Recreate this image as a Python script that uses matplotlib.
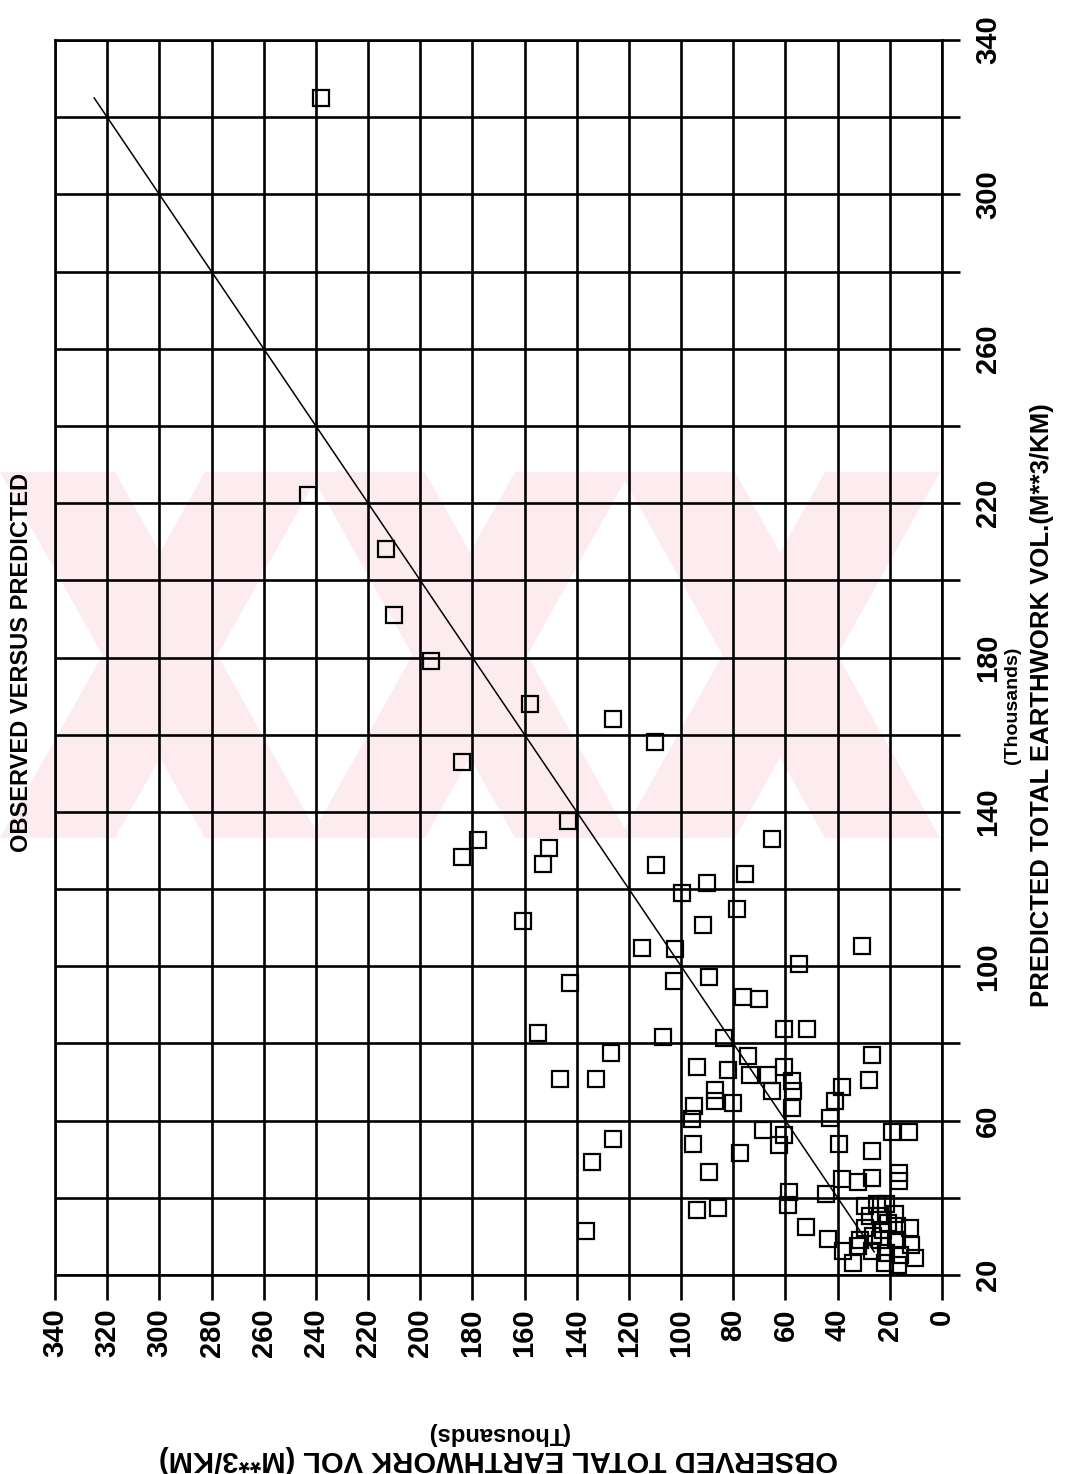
import numpy as np
import matplotlib
matplotlib.use("Agg")
import matplotlib.pyplot as plt
from matplotlib import font_manager
from matplotlib.patches import Polygon

# predicted vs observed earthwork volume, thousands of m**3/km
predicted = [325, 222, 208, 191, 179, 168, 164, 158, 153, 137.7,
             132.6, 128.3, 130.6, 126.4, 133, 126.2, 123.9, 121.5, 118.9, 114.8,
             111.6, 110.7, 104.6, 104.4, 105.2, 100.7, 95.6, 96.2, 97.1, 92.1,
             91.4, 82.8, 81.6, 81.3, 83.8, 83.8, 77.5, 77, 70.6, 70.9,
             70.9, 74, 73.2, 76.8, 71.9, 71.9, 74, 70.3, 67.8, 67.6,
             68, 63.3, 65, 64.6, 63.7, 60.5, 57.7, 56.2, 53.8, 55.3,
             49.2, 54, 51.6, 46.8, 41.4, 38.2, 36.9, 37.3, 31.4, 32.4,
             68.8, 65.2, 60.7, 53.9, 57, 57, 52.2, 45, 44.1, 45.2,
             46.5, 44.3, 40.9, 29.3, 27.4, 23, 26.1, 37.8, 38.3, 38.3,
             35.2, 35.2, 35.7, 32.6, 32.2, 31.7, 32.2, 29.1, 29.1, 29.1,
             27.8, 25.7, 25.2, 24.3, 23, 22.6, 26.1, 30, 33.5]
observed = [238, 243, 213, 210, 196, 158, 126, 110, 184, 143.4,
            178, 184.1, 150.8, 152.9, 65.3, 109.7, 75.4, 90.2, 99.7, 78.5,
            160.8, 91.5, 115.1, 102.3, 30.6, 55, 142.5, 102.7, 89.3, 76.3,
            70.3, 154.8, 107, 83.4, 60.5, 51.6, 126.7, 26.7, 28, 146.5,
            132.5, 94, 81.9, 74.2, 73.5, 66.7, 60.5, 57.6, 57.3, 65.2,
            87, 57.5, 87, 80, 95, 96, 68.7, 60.5, 62.5, 126,
            134, 95.4, 77.6, 89.3, 58.7, 59, 93.9, 85.9, 136.4, 52,
            38.3, 41.2, 43.1, 39.3, 19.1, 12.7, 26.7, 38.2, 32.2, 26.7,
            16.4, 16.4, 44.4, 43.7, 32.2, 34.1, 38, 29.6, 25.1, 21.3,
            27.7, 23.8, 18.1, 17.4, 12.3, 22.6, 29.6, 31.5, 23.8, 17.4,
            11.7, 21.3, 16.2, 10.4, 21.9, 16.8, 27, 26.4, 20.6]

# 1:1 reference line
fit_line = [26, 325]

obs_ticks = list(range(0, 341, 20))
pred_grid = list(range(20, 341, 20))
pred_labels = list(range(20, 341, 40))


def pick_font(names):
    have = {f.name for f in font_manager.fontManager.ttflist}
    for n in names:
        if n in have:
            return n
    return "DejaVu Sans"


narrow = pick_font(["Liberation Sans Narrow", "Liberation Sans", "DejaVu Sans"])
plain = pick_font(["Liberation Sans", "DejaVu Sans"])

W, H = 1073, 1474
fig = plt.figure(figsize=(W / 100, H / 100), dpi=100)


def fx(px):
    return px / W


def fy(py):
    return 1 - py / H


# faint pink watermark behind the grid
pink = "#fdecef"
top, bot = 472, 838
for c in [160, 470, 780]:
    hw, th = 160, 115
    back = [(c - hw, top), (c - hw + th, top), (c + hw, bot), (c + hw - th, bot)]
    fwd = [(c + hw - th, top), (c + hw, top), (c - hw + th, bot), (c - hw, bot)]
    for poly in (back, fwd):
        fig.add_artist(Polygon([(fx(x), fy(y)) for x, y in poly], closed=True,
                               transform=fig.transFigure, facecolor=pink,
                               edgecolor="none", zorder=0))

ax = fig.add_axes([fx(55), fy(1275), fx(942) - fx(55), (1275 - 40) / H])
ax.set_facecolor("none")
ax.set_xlim(340, 0)
ax.set_ylim(20, 340)

for v in obs_ticks:
    ax.axvline(v, color="black", lw=1.9, zorder=1)
for v in pred_grid:
    ax.axhline(v, color="black", lw=1.9, zorder=1)

ax.plot(fit_line, fit_line, color="black", lw=1.1, zorder=2)
ax.plot(observed, predicted, linestyle="none", marker="s", markersize=11,
        markerfacecolor="none", markeredgecolor="black", markeredgewidth=1.6,
        zorder=3)

for s in ax.spines.values():
    s.set_linewidth(1.9)

ax.set_xticks(obs_ticks)
ax.set_xticklabels([str(v) for v in obs_ticks], rotation=90,
                   fontsize=21, fontweight="bold", family=plain)
ax.tick_params(axis="x", direction="out", length=18, width=1.9, pad=6)

ax.yaxis.tick_right()
ax.set_yticks(pred_grid)
ax.set_yticklabels([str(v) if v in pred_labels else "" for v in pred_grid],
                   rotation=90, fontsize=21, fontweight="bold", family=plain,
                   va="center")
ax.tick_params(axis="y", direction="out", length=13, width=1.9, pad=10,
               left=False, right=True)

fig.text(fx(22), fy(662), "OBSERVED VERSUS PREDICTED", rotation=90,
         ha="center", va="center", fontsize=17, fontweight="bold", family=narrow)
fig.text(fx(1012), fy(705), "(Thousands)", rotation=90,
         ha="center", va="center", fontsize=14, fontweight="bold", family=narrow)
fig.text(fx(1042), fy(705), "PREDICTED TOTAL EARTHWORK VOL.(M**3/KM)", rotation=90,
         ha="center", va="center", fontsize=18.5, fontweight="bold", family=narrow)
fig.text(fx(498), fy(1434), "(Thousands)", rotation=180,
         ha="center", va="center", fontsize=17, fontweight="bold", family=narrow)
fig.text(fx(498), fy(1459), "OBSERVED TOTAL EARTHWORK VOL (M**3/KM)", rotation=180,
         ha="center", va="center", fontsize=21, fontweight="bold", family=narrow)

fig.savefig("out.png", dpi=100)
